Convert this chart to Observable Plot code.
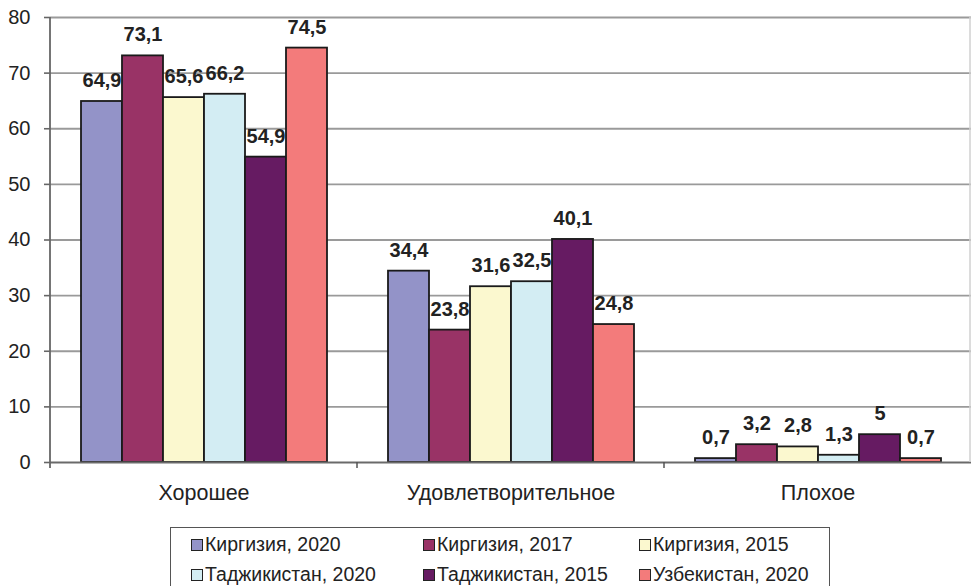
<!DOCTYPE html>
<html><head><meta charset="utf-8">
<script src="https://cdn.jsdelivr.net/npm/d3@7"></script>
<script src="https://cdn.jsdelivr.net/npm/@observablehq/plot@0.6"></script>
<style>
body{margin:0;background:#fff;font-family:"Liberation Sans",Arial,sans-serif;}
#wrap{position:relative;width:973px;height:586px;}
#legend{position:absolute;left:170px;top:527px;width:660px;height:70px;border:1px solid #555;box-sizing:border-box;font-size:19.5px;color:#222;}
.item{position:absolute;display:flex;align-items:center;white-space:nowrap;}
.sw{width:10px;height:10px;border:1.5px solid #222;margin-right:2px;}
</style></head>
<body><div id="wrap"><div id="chart"></div><div id="legend"></div></div>
<script>
const categories = ["Хорошее", "Удовлетворительное", "Плохое"];
const series = ["Киргизия, 2020", "Киргизия, 2017", "Киргизия, 2015", "Таджикистан, 2020", "Таджикистан, 2015", "Узбекистан, 2020"];
const colors = ["#9393c8", "#993366", "#fbf8cf", "#d3edf3", "#661b62", "#f37b7b"];
const good = [64.9, 73.1, 65.6, 66.2, 54.9, 74.5];
const satisfactory = [34.4, 23.8, 31.6, 32.5, 40.1, 24.8];
const bad = [0.7, 3.2, 2.8, 1.3, 5, 0.7];
const yTicks = [0, 10, 20, 30, 40, 50, 60, 70, 80];

const valuesByCat = [good, satisfactory, bad];
const data = [];
categories.forEach((c, ci) => series.forEach((s, si) => data.push({cat: c, series: s, value: valuesByCat[ci][si]})));
const fmt = v => String(v).replace(".", ",");

const chart = Plot.plot({
  width: 973, height: 520,
  marginLeft: 49, marginRight: 1, marginTop: 17, marginBottom: 58,
  style: {fontFamily: "Liberation Sans, Arial, sans-serif", fontSize: "20px", color: "#222"},
  fx: {domain: categories, padding: 0},
  x: {domain: series, paddingInner: 0, paddingOuter: 0.72, axis: null},
  y: {domain: [0, 80]},
  color: {domain: series, range: colors},
  marks: [
    Plot.gridY(yTicks.filter(d => d > 0), {stroke: "#9a9a9a", strokeOpacity: 1, strokeWidth: 1.8}),
    Plot.axisY(yTicks, {tickSize: 6, tickPadding: 14, label: null, fontSize: 20, stroke: "#666", strokeWidth: 1.6, tickFormat: d => d, fill: "#222"}),
    Plot.axisFx({anchor: "bottom", tickSize: 0, tickPadding: 22, label: null, fontSize: 21.5, fill: "#222"}),
    Plot.barY(data, {fx: "cat", x: "series", y: "value", fill: "series", stroke: "#1a1a1a", strokeWidth: 1.8}),
    Plot.ruleY([0], {stroke: "#6a6a6a", strokeWidth: 1.8}),
    Plot.text(data, {fx: "cat", x: "series", y: "value", text: d => fmt(d.value), dy: -21, fontWeight: "bold", fontSize: 20, fill: "#222"})
  ]
});
document.getElementById("chart").appendChild(chart);

// axis line, right border and category boundary ticks from the plot's own scales
const fx = chart.scale("fx"), y = chart.scale("y");
const y0 = y.apply(0), yTop = y.apply(80);
const xs = categories.map(c => fx.apply(c));
const xEnd = xs[xs.length - 1] + fx.bandwidth;
const svg = d3.select(chart.tagName.toLowerCase() === "svg" ? chart : chart.querySelector("svg"));
const g = svg.append("g");
g.append("line").attr("x1", xEnd - 1).attr("x2", xEnd - 1).attr("y1", yTop).attr("y2", y0).attr("stroke", "#d0d0d0").attr("stroke-width", 1.5);
g.append("line").attr("x1", xs[0]).attr("x2", xs[0]).attr("y1", yTop).attr("y2", y0 + 6).attr("stroke", "#666").attr("stroke-width", 1.8);
xs.slice(1).forEach(x => g.append("line").attr("x1", x).attr("x2", x).attr("y1", y0).attr("y2", y0 + 6).attr("stroke", "#555").attr("stroke-width", 1.5));

const legend = document.getElementById("legend");
const colX = [20, 252, 468];
const rowY = [16, 46];
series.forEach((s, i) => {
  const it = document.createElement("div");
  it.className = "item";
  it.style.left = colX[i % 3] + "px";
  it.style.top = (rowY[Math.floor(i / 3)] - 11) + "px";
  it.innerHTML = `<span class="sw" style="background:${colors[i]}"></span><span>${s}</span>`;
  legend.appendChild(it);
});
</script></body></html>
